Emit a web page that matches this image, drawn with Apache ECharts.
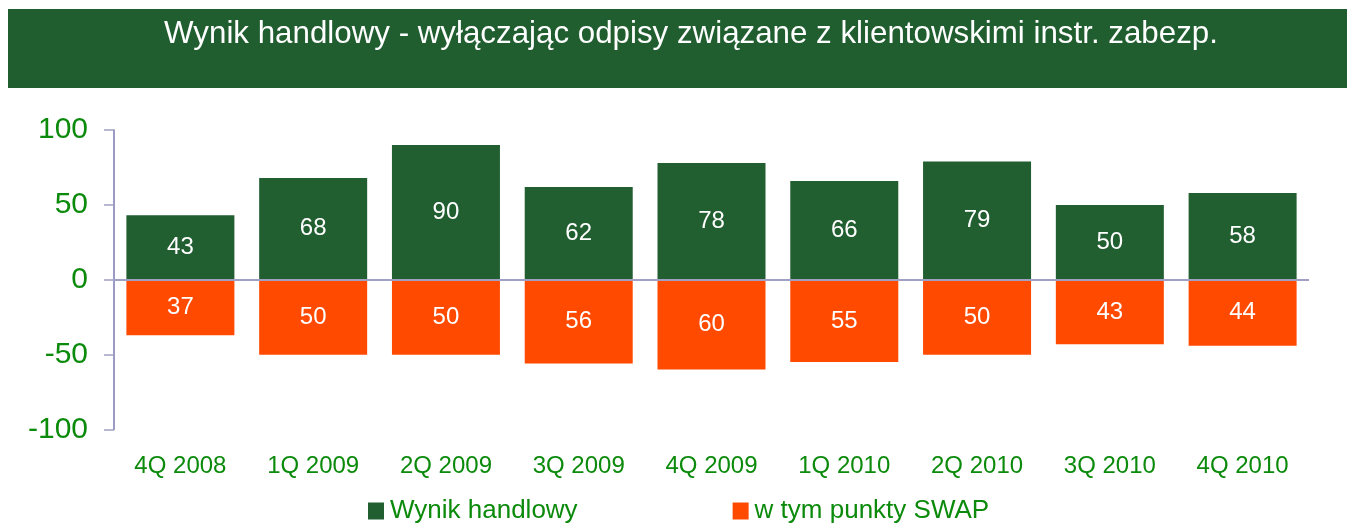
<!DOCTYPE html>
<html>
<head>
<meta charset="utf-8">
<script src="https://cdn.jsdelivr.net/npm/echarts@6/dist/echarts.min.js"></script>
<style>
  html, body { margin: 0; padding: 0; background: #fff; }
  #chart { width: 1347px; height: 523px; }
</style>
</head>
<body>
<div id="chart"></div>
<script>
const categories = ['4Q 2008', '1Q 2009', '2Q 2009', '3Q 2009', '4Q 2009', '1Q 2010', '2Q 2010', '3Q 2010', '4Q 2010']
const tradingResult = [43, 68, 90, 62, 78, 66, 79, 50, 58]
// SWAP points are drawn below zero, labels show absolute values
const swapPoints = [-37, -50, -50, -56, -60, -55, -50, -43, -44]

const font = 'Liberation Sans, Arial, sans-serif'
const green = '#215e30'
const orange = '#ff4a00'
const labelGreen = '#0b8a0b'

const chart = echarts.init(document.getElementById('chart'))

chart.setOption({
  backgroundColor: '#fff',
  animation: false,
  graphic: [
    {
      type: 'rect',
      shape: { x: 8, y: 9, width: 1339, height: 79 },
      style: { fill: '#205e30' },
      z: -1,
    },
  ],
  title: {
    text: 'Wynik handlowy - wyłączając odpisy związane z klientowskimi instr. zabezp.',
    left: 686,
    top: 14,
    textAlign: 'center',
    textStyle: { color: '#fff', fontSize: 31.3, fontWeight: 'normal', fontFamily: font },
  },
  legend: {
    left: 363,
    top: 493,
    itemWidth: 16,
    itemHeight: 17,
    itemGap: 155,
    icon: 'rect',
    textStyle: { color: labelGreen, fontSize: 26, fontFamily: font, padding: [0, 0, 0, 1] },
    data: ['Wynik handlowy', 'w tym punkty SWAP'],
  },
  grid: { left: 114, right: 38, top: 130, bottom: 93.5 },
  xAxis: {
    type: 'category',
    data: categories,
    axisLine: { show: false, onZero: false },
    axisTick: { show: false },
    axisLabel: { color: labelGreen, fontSize: 24, fontFamily: font, margin: 25 },
  },
  yAxis: {
    type: 'value',
    min: -100,
    max: 100,
    interval: 50,
    axisLine: { show: true, lineStyle: { color: '#7a7ab0', width: 1.5 } },
    axisTick: { show: true, length: 10, lineStyle: { color: '#a0a0c4', width: 1.5 } },
    axisLabel: { color: labelGreen, fontSize: 30, fontFamily: font, margin: 26 },
    splitLine: { show: false },
  },
  series: [
    {
      name: 'Wynik handlowy',
      type: 'bar',
      stack: 'total',
      data: tradingResult,
      barWidth: 108,
      itemStyle: { color: green },
      label: {
        show: true,
        position: 'inside',
        color: '#fff',
        fontSize: 24,
        fontFamily: font,
      },
      markLine: {
        silent: true,
        symbol: 'none',
        label: { show: false },
        lineStyle: { color: '#a0a0c4', width: 2, type: 'solid' },
        data: [{ yAxis: 0 }],
      },
    },
    {
      name: 'w tym punkty SWAP',
      type: 'bar',
      stack: 'total',
      data: swapPoints,
      barWidth: 108,
      itemStyle: { color: orange },
      label: {
        show: true,
        position: 'inside',
        color: '#fff',
        fontSize: 24,
        fontFamily: font,
        formatter: p => Math.abs(p.value),
      },
    },
  ],
})

window.addEventListener('resize', () => chart.resize())
</script>
</body>
</html>
